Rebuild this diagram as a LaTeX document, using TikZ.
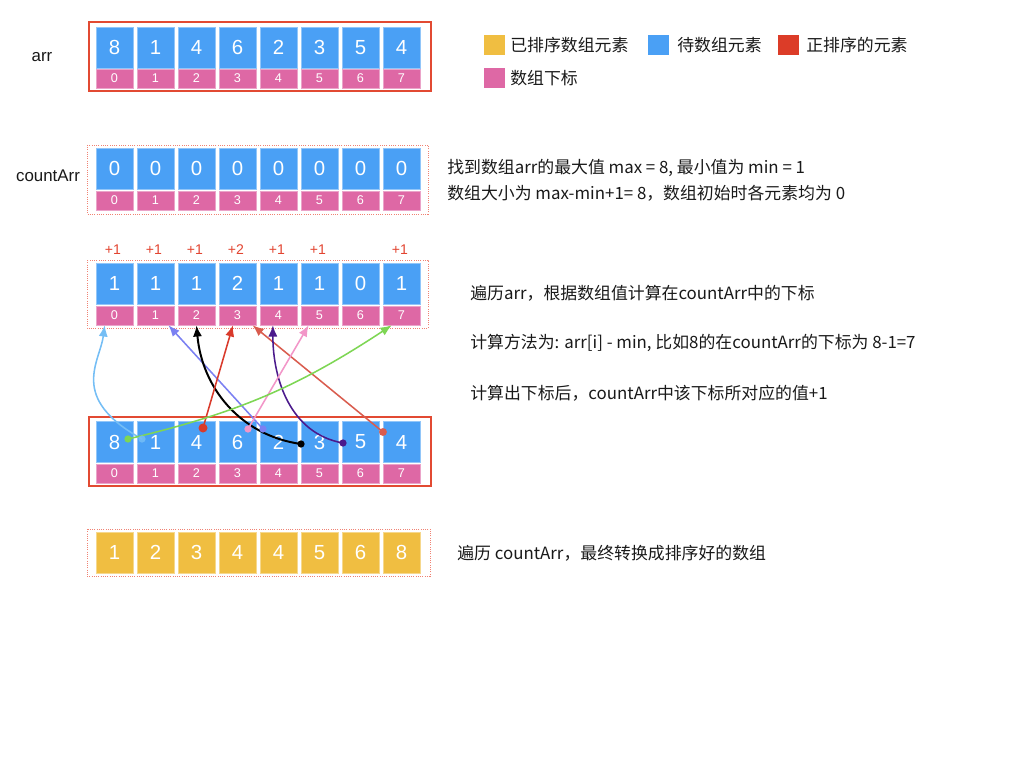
\documentclass[tikz,border=0pt]{standalone}
\usepackage{fontspec}
\setmainfont{Liberation Sans}
\newfontfamily\cjk{Noto Sans CJK SC}
\usetikzlibrary{arrows.meta}
\definecolor{cellblue}{RGB}{74,160,245}
\definecolor{idxpink}{RGB}{222,104,165}
\definecolor{doneyellow}{RGB}{240,190,65}
\definecolor{activered}{RGB}{220,60,40}
\definecolor{framered}{RGB}{226,74,50}
\definecolor{dotframe}{RGB}{240,130,115}
\definecolor{plusred}{RGB}{226,68,48}
\definecolor{textgray}{RGB}{25,25,25}
\definecolor{lnlight}{RGB}{117,190,245}
\definecolor{lngreen}{RGB}{126,214,84}
\definecolor{lnviolet}{RGB}{123,128,242}
\definecolor{lnred}{RGB}{217,58,43}
\definecolor{lnorange}{RGB}{217,92,78}
\definecolor{lnpink}{RGB}{242,150,200}
\definecolor{lnpurple}{RGB}{75,26,140}

\begin{document}
\begin{tikzpicture}[x=0.025cm,y=-0.025cm,
  val/.style={fill=cellblue,draw=cellblue!60!white,line width=0.4pt,minimum width=0.925cm,
    minimum height=1.025cm,inner sep=0pt,text=white,font=\fontsize{14.5}{14.5}\selectfont},
  idx/.style={fill=idxpink,draw=idxpink!60!white,line width=0.4pt,minimum width=0.925cm,
    minimum height=0.475cm,inner sep=0pt,text=white,font=\fontsize{9}{9}\selectfont},
  done/.style={val,fill=doneyellow,draw=doneyellow!60!white},
  inc/.style={text=plusred,font=\fontsize{10}{10}\selectfont,inner sep=0pt},
  key/.style={minimum width=0.52cm,minimum height=0.5cm,inner sep=0pt},
  note/.style={anchor=west,inner sep=0pt,text=textgray,font=\cjk\fontsize{12}{12}\selectfont},
  link/.style={-{Latex[length=8pt,width=6.5pt]},line width=1.1pt},
]
  \useasboundingbox (0,0) rectangle (1024,768);

  % arr
  \node[text=textgray,font=\fontsize{12}{12}\selectfont] (arrlbl) at (42,57) {arr};
  \foreach \v [count=\i from 0] in {8,1,4,6,2,3,5,4} {
    \node[val] (a\i) at (114.5+41*\i,47.5) {\v};
    \node[idx] (ai\i) at (114.5+41*\i,78.5) {\i};
  }
  \draw[framered,line width=1.2pt] (89,22) rectangle (431,91);

  % legend
  \node[key,fill=doneyellow] (kdone) at (494.5,45) {};
  \node[note] at (510,45) {已排序数组元素};
  \node[key,fill=cellblue] (kwait) at (658.5,45) {};
  \node[note] at (677,45) {待数组元素};
  \node[key,fill=activered] (kact) at (788.5,45) {};
  \node[note] at (806,45) {正排序的元素};
  \node[key,fill=idxpink] (kidx) at (494.5,78) {};
  \node[note] at (510,78) {数组下标};

  % countArr, all zero
  \node[text=textgray,font=\fontsize{12}{12}\selectfont] (cntlbl) at (48,176) {countArr};
  \foreach \i in {0,...,7} {
    \node[val] (z\i) at (114.5+41*\i,168.5) {0};
    \node[idx] (zi\i) at (114.5+41*\i,200.5) {\i};
  }
  \draw[dotframe,densely dotted,line width=0.6pt] (87,145) rectangle (428,214);
  \node[note] at (447,168) {找到数组arr的最大值 max = 8, 最小值为 min = 1};
  \node[note] at (447,193) {数组大小为 max-min+1= 8，数组初始时各元素均为 0};

  % countArr after counting
  \foreach \v [count=\i from 0] in {1,1,1,2,1,1,0,1} {
    \node[val] (c\i) at (114.5+41*\i,283.5) {\v};
    \node[idx] (ci\i) at (114.5+41*\i,315.5) {\i};
  }
  \foreach \i/\d in {0/1,1/1,2/1,3/2,4/1,5/1,7/1}
    \node[inc] (p\i) at (113+41*\i,250) {+\d};
  \draw[dotframe,densely dotted,line width=0.6pt] (87,260) rectangle (428,328);
  \node[note] at (470,293) {遍历arr，根据数组值计算在countArr中的下标};
  \node[note] at (470,343) {计算方法为: arr[i] - min, 比如8的在countArr的下标为 8-1=7};
  \node[note] at (470,393) {计算出下标后，countArr中该下标所对应的值+1};

  % arr again, walked through
  \foreach \v [count=\i from 0] in {8,1,4,6,2,3,5,4} {
    \node[val] (b\i) at (114.5+41*\i,442) {\v};
    \node[idx] (bi\i) at (114.5+41*\i,473.5) {\i};
  }
  \draw[framered,line width=1.2pt] (89,417) rectangle (431,486);

  \coordinate (d8) at (128,439);
  \coordinate (d1) at (142,439);
  \coordinate (d4a) at (203,428);
  \coordinate (d6) at (248,429);
  \coordinate (d2) at (263,429);
  \coordinate (d3) at (301,444);
  \coordinate (d5) at (343,443);
  \coordinate (d4b) at (383,432);

  \draw[link,lnlight] (d1) .. controls (68,398) and (100,362) .. (ci0.-135);
  \draw[link,lnviolet] (d2) -- (ci1.-37);
  \draw[link,black,line width=1.4pt] (d3) to[out=172,in=-85] (ci2.south);
  \draw[link,lnred] (d4a) -- (ci3.-115);
  \draw[link,lnorange] (d4b) -- (ci3.-33);
  \draw[link,lnpurple] (d5) to[out=170,in=-90] (ci4.-120);
  \draw[link,lnpink] (d6) -- (ci5.-138);
  \draw[link,lngreen] (d8) to[bend right=10] (ci7.-135);

  \fill[lnlight,fill opacity=0.85] (d1) circle[radius=2.6pt];
  \fill[lnviolet] (d2) circle[radius=2.6pt];
  \fill[black] (d3) circle[radius=2.6pt];
  \fill[lnred] (d4a) circle[radius=3.2pt];
  \fill[lnorange] (d4b) circle[radius=2.8pt];
  \fill[lnpurple] (d5) circle[radius=2.6pt];
  \fill[lnpink] (d6) circle[radius=2.6pt];
  \fill[lngreen] (d8) circle[radius=2.6pt];

  % sorted result
  \foreach \v [count=\i from 0] in {1,2,3,4,4,5,6,8}
    \node[done] (s\i) at (114.5+41*\i,552.5) {\v};
  \draw[dotframe,densely dotted,line width=0.6pt] (87,529) rectangle (430,576);
  \node[note] at (457,553) {遍历 countArr，最终转换成排序好的数组};
\end{tikzpicture}
\end{document}
